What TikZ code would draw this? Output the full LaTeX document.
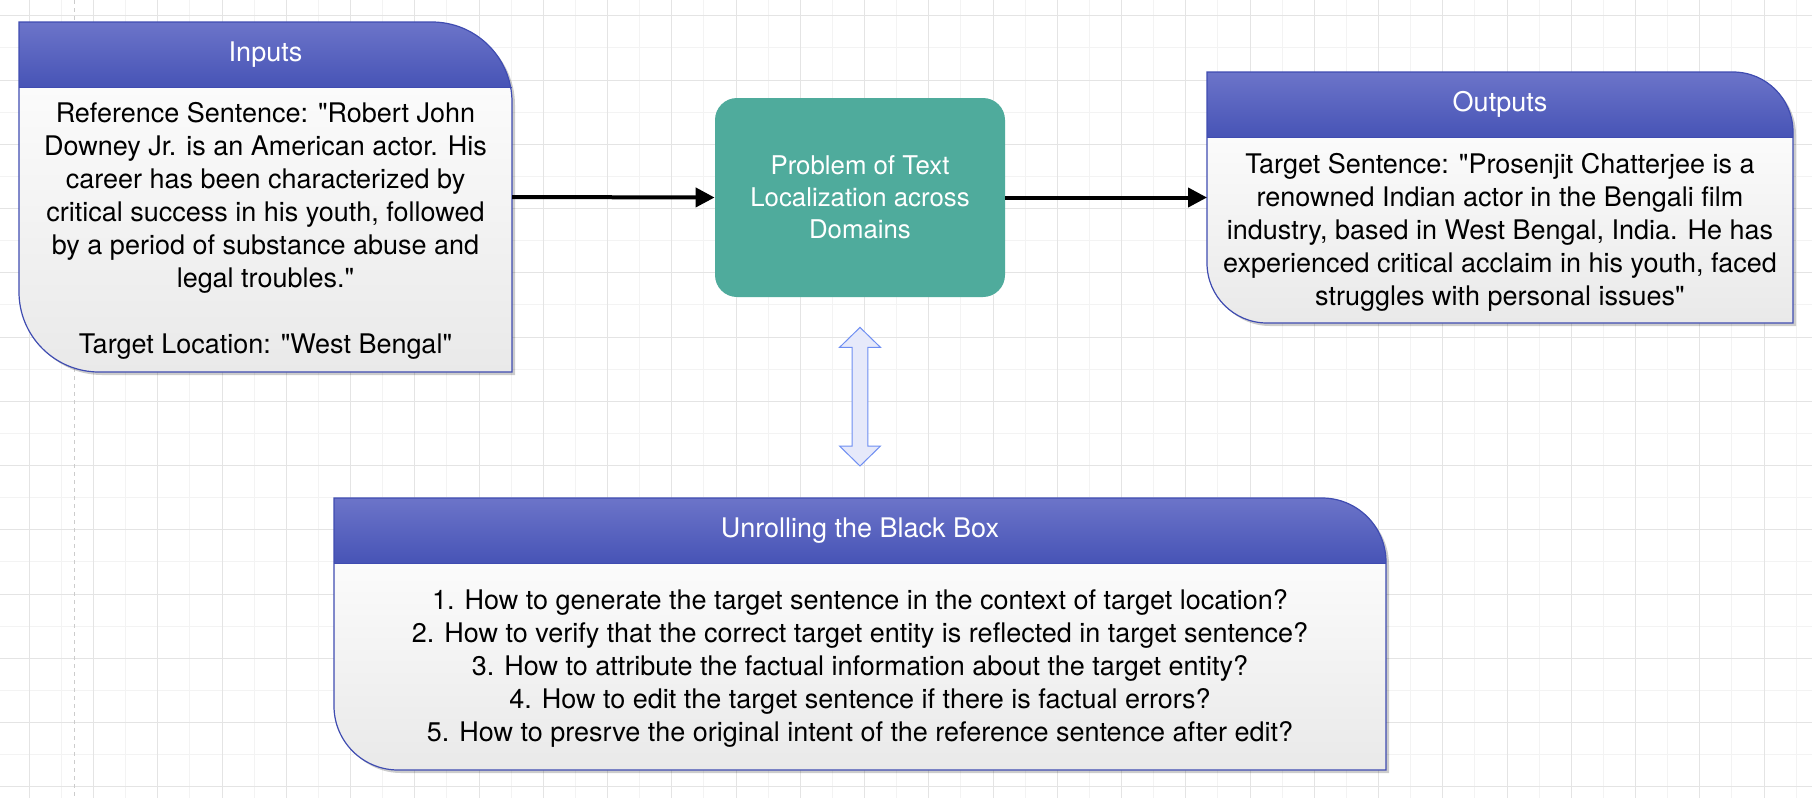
\documentclass[tikz,border=0pt]{standalone}
\usepackage{fontspec}
\setmainfont{TeX Gyre Heros}[Ligatures=TeXOff]
\usetikzlibrary{calc,arrows.meta}
\definecolor{hdtop}{HTML}{6C74C9}
\definecolor{hdbot}{HTML}{4754B6}
\definecolor{cardedge}{HTML}{3F4CB1}
\definecolor{bdtop}{HTML}{FBFBFB}
\definecolor{bdbot}{HTML}{E9E9E9}
\definecolor{tealc}{HTML}{4FAB9C}
\definecolor{gridd}{HTML}{E4E4E4}
\definecolor{gridl}{HTML}{F3F3F3}
\definecolor{pagebrk}{HTML}{CCCCCC}
\definecolor{dafill}{HTML}{E6E9FA}
\definecolor{dadraw}{HTML}{6E8EF2}

% x0 y0 x1 y1 header-bottom radius
\newcommand{\drawcard}[6]{%
  \fill[black,opacity=0.2] ({#1+3},{#2+3}) -- ({#3-#6+3},{#2+3}) arc[start angle=-90,end angle=0,radius=#6] -- ({#3+3},{#4+3}) -- ({#1+#6+3},{#4+3}) arc[start angle=90,end angle=180,radius=#6] -- cycle;
  \begin{scope}
    \clip (#1,#2) -- ({#3-#6},#2) arc[start angle=-90,end angle=0,radius=#6] -- (#3,#4) -- ({#1+#6},#4) arc[start angle=90,end angle=180,radius=#6] -- cycle;
    \shade[top color=hdtop,bottom color=hdbot] (#1,#2) rectangle (#3,#5);
    \shade[top color=bdtop,bottom color=bdbot] (#1,#5) rectangle (#3,#4);
  \end{scope}
  \draw[cardedge,line width=0.6pt] (#1,#2) -- ({#3-#6},#2) arc[start angle=-90,end angle=0,radius=#6] -- (#3,#4) -- ({#1+#6},#4) arc[start angle=90,end angle=180,radius=#6] -- cycle;
  \draw[cardedge,line width=0.5pt] (#1,#5) -- (#3,#5);
}

\tikzset{
  txt/.style={align=center,inner sep=0pt,font=\fontsize{13.5}{16.5}\selectfont},
  ttl/.style={txt,text=white},
  holder/.style={inner sep=0pt,outer sep=0pt},
  flowarrow/.style={line width=2pt,-{Triangle[length=9.5pt,width=9.5pt]}},
  problembox/.style={fill=tealc,rounded corners=11pt,minimum width=145pt,minimum height=99.5pt,inner sep=0pt,text=white,align=center,font=\fontsize{12.9}{16}\selectfont},
}

\begin{document}
\begin{tikzpicture}[x=0.5pt,y=-0.5pt]
\fill[white] (0,0) rectangle (1812,798);
\useasboundingbox (0,0) rectangle (1812,798);
% grid
\foreach \k in {0,...,27} {
  \draw[gridl,line width=0.5pt] ({61.4+64.25*\k},0) -- ({61.4+64.25*\k},798);
}
\foreach \k in {0,...,12} {
  \draw[gridl,line width=0.5pt] (0,{47.9+64.25*\k}) -- (1812,{47.9+64.25*\k});
}
\foreach \k in {0,...,28} {
  \draw[gridd,line width=0.5pt] ({29.3+64.25*\k},0) -- ({29.3+64.25*\k},798);
}
\foreach \k in {0,...,12} {
  \draw[gridd,line width=0.5pt] (0,{15.8+64.25*\k}) -- (1812,{15.8+64.25*\k});
}
\draw[pagebrk,line width=0.5pt,dash pattern=on 2pt off 2pt] (74.7,0) -- (74.7,798);

% cards
\drawcard{19}{22}{512}{372}{87}{80}
\drawcard{1207}{72}{1793}{323}{137}{60}
\drawcard{334}{498}{1386}{770}{563}{64}

\node[holder,minimum width=246.5pt,minimum height=175pt] (inputs) at (265.5,197) {};
\node[holder,minimum width=293pt,minimum height=125.5pt] (outputs) at (1500,197.5) {};
\node[holder,minimum width=526pt,minimum height=136pt] (blackbox) at (860,634) {};

\node[ttl] (inputsttl) at (265.5,54.5) {Inputs};
\node[ttl] (outputsttl) at (1500,104.5) {Outputs};
\node[ttl] (blackboxttl) at (860,530.5) {Unrolling the Black Box};

\node[txt] (inputstxt) at (265.5,231) {Reference Sentence: "Robert John\\Downey Jr. is an American actor. His\\career has been characterized by\\critical success in his youth, followed\\by a period of substance abuse and\\legal troubles."\\[16.5pt]Target Location: "West Bengal"};
\node[txt] (outputstxt) at (1500,232.5) {Target Sentence: "Prosenjit Chatterjee is a\\renowned Indian actor in the Bengali film\\industry, based in West Bengal, India. He has\\experienced critical acclaim in his youth, faced\\struggles with personal issues"};
\node[txt] (blackboxtxt) at (860,668.5) {1. How to generate the target sentence in the context of target location?\\2. How to verify that the correct target entity is reflected in target sentence?\\3. How to attribute the factual information about the target entity?\\4. How to edit the target sentence if there is factual errors?\\5. How to presrve the original intent of the reference sentence after edit?};

\node[problembox] (problem) at (860,197.5) {Problem of Text\\Localization across\\Domains};

\draw[flowarrow] (inputs.east) -- (problem.west);
\draw[flowarrow] (problem.east) -- (outputs.west);

% double arrow between problem and black box
\coordinate (dtop) at ($(problem.south)+(0,30)$);
\coordinate (dbot) at ($(blackbox.north)+(0,-32)$);
\draw[dadraw,fill=dafill,line width=0.5pt,line join=miter]
  (dtop) -- ($(dtop)+(20.5,20)$) -- ($(dtop)+(7.8,20)$) -- ($(dbot)+(7.8,-20)$) -- ($(dbot)+(20.5,-20)$) -- (dbot)
  -- ($(dbot)+(-20.5,-20)$) -- ($(dbot)+(-7.8,-20)$) -- ($(dtop)+(-7.8,20)$) -- ($(dtop)+(-20.5,20)$) -- cycle;
\end{tikzpicture}
\end{document}
